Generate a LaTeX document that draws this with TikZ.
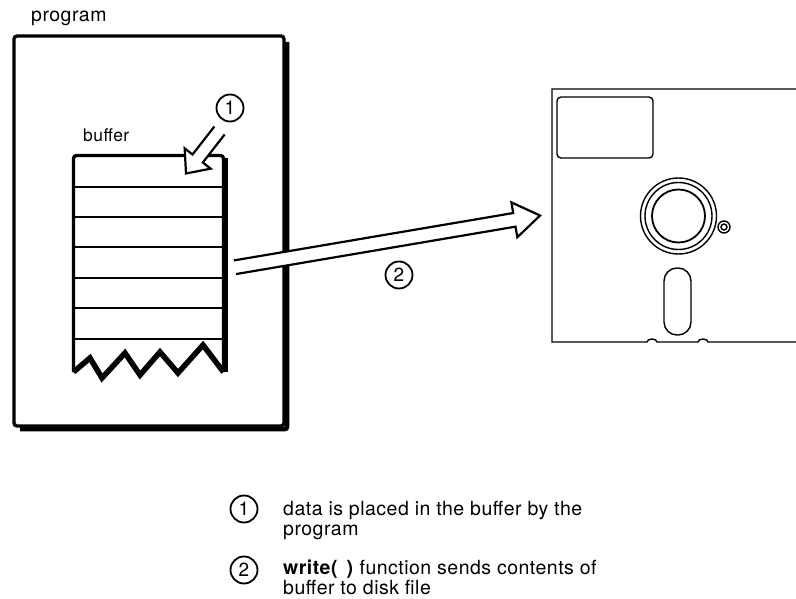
\documentclass[tikz,border=0pt]{standalone}
\usepackage{fontspec}
\setmainfont{TeX Gyre Heros}[LetterSpace=2.5]
\usepackage{tikz}
\usetikzlibrary{calc,positioning}
\tikzset{
  lbl/.style={inner sep=0pt,font=\fontsize{19.5}{20}\selectfont},
  smalllbl/.style={lbl,font=\fontsize{17.5}{18}\selectfont},
  num/.style={circle,draw,line width=1.8pt,inner sep=0pt,minimum size=27pt,
    font=\fontsize{19}{19}\selectfont},
  frame/.style={draw,line width=3.4pt,rounded corners=3pt,outer sep=0pt},
  shadowline/.style={line width=4.5pt,rounded corners=2pt},
  bufline/.style={line width=3.4pt,rounded corners=3pt},
  rowline/.style={line width=2pt},
  zigzag/.style={line width=5.5pt,line join=miter},
  thin/.style={line width=1.4pt},
  blank/.style={inner sep=0pt,outer sep=0pt},
  % open arrow outline: shaft half width, head half width, head length
  hollow/.style n args={3}{draw,fill=white,line width=2.2pt,line join=miter,
    to path={
      ($(\tikztostart)!#1!90:(\tikztotarget)$)
      -- ($(\tikztotarget)!#3!(\tikztostart)!#1!90:(\tikztotarget)$)
      -- ($(\tikztotarget)!#3!(\tikztostart)!#2!90:(\tikztotarget)$)
      -- (\tikztotarget)
      -- ($(\tikztotarget)!#3!(\tikztostart)!#2!-90:(\tikztotarget)$)
      -- ($(\tikztotarget)!#3!(\tikztostart)!#1!-90:(\tikztotarget)$)
      -- ($(\tikztostart)!#1!-90:(\tikztotarget)$)}}
}

\begin{document}
\begin{tikzpicture}[x=1pt,y=-1pt]
  \useasboundingbox (0,0) rectangle (796,599);

  % program area
  \node[lbl,anchor=base west] (proglbl) at (31,22) {program};
  \node[frame,minimum width=270pt,minimum height=390pt] (prog) at (149,231) {};
  \draw[shadowline] ([shift={(3,6)}]prog.north east) -- ([shift={(3,3)}]prog.south east)
    -- ([shift={(6,3)}]prog.south west);

  % buffer, torn off at the bottom
  \node[smalllbl,anchor=base west] (buflbl) at (83,142) {buffer};
  \node[blank,minimum width=150pt,minimum height=216.5pt] (buf) at (148.5,263.75) {};
  \draw[bufline] (buf.south west) -- (buf.north west) -- (buf.north east) -- (buf.south east);
  \draw[line width=5pt] ([shift={(1.5,3)}]buf.north east) -- ([shift={(1.5,0)}]buf.south east);
  \foreach \dy in {32,62,92,122,152,183}
    \draw[rowline] ([shift={(0,\dy)}]buf.north west) -- ([shift={(0,\dy)}]buf.north east);
  \draw[zigzag] (buf.south west) -- ++(16.5,-14) -- ++(12,20) -- ++(23,-25) -- ++(15,22)
    -- ++(20,-23) -- ++(18,21) -- ++(25,-28) -- (buf.south east);

  % disk
  \node[blank,minimum width=260pt,minimum height=253pt] (disk) at (682,215.5) {};
  \draw[thin] (disk.north east) -- (disk.north west) -- (disk.south west) -- ++(95,0)
    arc[start angle=180,end angle=0,x radius=5pt,y radius=3pt] -- ++(41,0)
    arc[start angle=180,end angle=0,x radius=5pt,y radius=3pt] -- (disk.south east);
  \node[draw,thin,blank,rounded corners=4pt,minimum width=96pt,minimum height=61pt,
    anchor=north west] (window) at ([shift={(5,8)}]disk.north west) {};
  \node[circle,draw,thin,blank,minimum size=76pt] (hub) at (678.5,216) {};
  \draw[thin] (hub) circle[radius=33.5pt];
  \draw[line width=1.8pt] (hub) circle[radius=26.5pt];
  \node[circle,draw,thin,blank,minimum size=12pt] (hole) at (724,227) {};
  \draw[thin] (hole) circle[radius=3pt];
  \node[draw,thin,blank,rounded corners=13pt,minimum width=27pt,minimum height=67pt]
    (slot) at (677.5,301.5) {};

  % steps
  \node[num] (c1) at (230,108) {1};
  \coordinate (a1s) at ([shift={(-10.5,22.5)}]c1);
  \coordinate (a1t) at ([shift={(-37.5,18)}]buf.north east);
  \draw[hollow={6.5pt}{16.5pt}{19pt}] (a1s) to (a1t);

  \coordinate (a2s) at ([shift={(11.5,3.5)}]buf.east);
  \coordinate (a2t) at ([shift={(-12,0)}]disk.west);
  \draw[hollow={6.9pt}{17.7pt}{26pt}] (a2s) to (a2t);
  \node[num] (c2) at (399,275) {2};

  % legend
  \node[num] (lc1) at (244,509) {1};
  \node[lbl,align=left,anchor=north west] (lt1) at (283,501)
    {data is placed in the buffer by the\\program};
  \node[num] (lc2) at (244,570) {2};
  \node[lbl,align=left,anchor=north west] (lt2) at (283,560)
    {\textbf{write(\ \,)} function sends contents of\\buffer to disk file};
\end{tikzpicture}
\end{document}
